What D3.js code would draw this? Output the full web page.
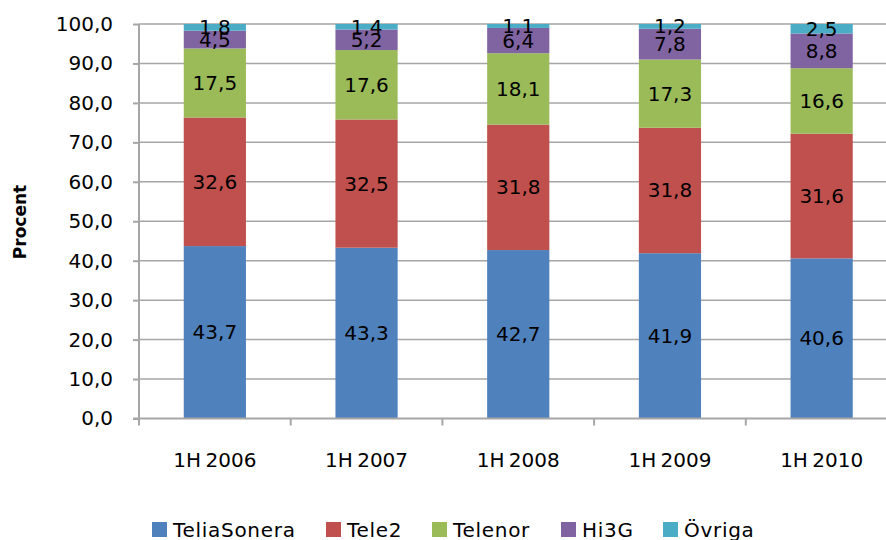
<!DOCTYPE html>
<html>
<head>
<meta charset="utf-8">
<script src="https://cdn.jsdelivr.net/npm/d3@7"></script>
<style>
  body { margin: 0; background: #fff; }
  text { font-family: "DejaVu Sans", sans-serif; fill: #000; }
</style>
</head>
<body>
<div id="chart"></div>
<script>
const categories = ["1H 2006", "1H 2007", "1H 2008", "1H 2009", "1H 2010"];
const seriesNames = ["TeliaSonera", "Tele2", "Telenor", "Hi3G", "Övriga"];
const teliaSonera = [43.7, 43.3, 42.7, 41.9, 40.6];
const tele2 = [32.6, 32.5, 31.8, 31.8, 31.6];
const telenor = [17.5, 17.6, 18.1, 17.3, 16.6];
const hi3g = [4.5, 5.2, 6.4, 7.8, 8.8];
const ovriga = [1.8, 1.4, 1.1, 1.2, 2.5];
const yTicks = [0, 10, 20, 30, 40, 50, 60, 70, 80, 90, 100];

const colors = ["#4F81BD", "#C0504D", "#9BBB59", "#8064A2", "#4BACC6"];
const seriesValues = [teliaSonera, tele2, telenor, hi3g, ovriga];

const rows = categories.map((c, i) => {
  const row = { category: c };
  seriesNames.forEach((s, j) => { row[s] = seriesValues[j][i]; });
  return row;
});

const svg = d3.select("#chart")
  .append("svg")
  .attr("width", 886)
  .attr("height", 540);

const margin = { top: 24, left: 139, bottom: 121.5 };
const plotBottom = 540 - margin.bottom;

const xScale = d3.scaleBand()
  .domain(categories)
  .range([margin.left, 897.5])
  .paddingInner(0.59)
  .paddingOuter(0.295);

const yScale = d3.scaleLinear()
  .domain([0, 100])
  .range([plotBottom, margin.top]);

const fmt = v => d3.format(".1f")(v).replace(".", ",");

// gridlines
svg.append("g")
  .selectAll("line")
  .data(yTicks.filter(t => t > 0))
  .join("line")
  .attr("x1", margin.left)
  .attr("x2", 900)
  .attr("y1", d => yScale(d))
  .attr("y2", d => yScale(d))
  .attr("stroke", "#a6a6a6")
  .attr("stroke-width", 1.5);

// stacked bars
const stacked = d3.stack().keys(seriesNames)(rows);

const layers = svg.append("g")
  .selectAll("g")
  .data(stacked)
  .join("g")
  .attr("fill", (d, i) => colors[i]);

layers.selectAll("rect")
  .data(d => d)
  .join("rect")
  .attr("x", d => xScale(d.data.category))
  .attr("width", xScale.bandwidth())
  .attr("y", d => yScale(Math.min(100, d[1])))
  .attr("height", d => yScale(d[0]) - yScale(Math.min(100, d[1])));

// data labels
layers.selectAll("text")
  .data(d => d.map(p => ({ p, key: d.key })))
  .join("text")
  .attr("x", d => xScale(d.p.data.category) + xScale.bandwidth() / 2)
  .attr("y", d => yScale((d.p[0] + d.p[1]) / 2))
  .attr("text-anchor", "middle")
  .attr("dominant-baseline", "central")
  .attr("font-size", 20)
  .text(d => fmt(d.p.data[d.key]));

// y axis
const yAxis = svg.append("g")
  .attr("transform", `translate(${margin.left},0)`)
  .call(d3.axisLeft(yScale).tickValues(yTicks).tickFormat(fmt).tickSize(6).tickPadding(20));
yAxis.select(".domain").attr("stroke", "#a6a6a6").attr("stroke-width", 2)
  .attr("d", `M0,${plotBottom}V${margin.top}`);
yAxis.selectAll(".tick line").attr("stroke", "#a6a6a6").attr("stroke-width", 2);
yAxis.selectAll(".tick text").attr("font-size", 20).attr("font-family", "DejaVu Sans").attr("fill", "#000");

// x axis
const xAxis = svg.append("g")
  .attr("transform", `translate(0,${plotBottom})`)
  .call(d3.axisBottom(xScale).tickSize(0).tickPadding(34));
xAxis.select(".domain").attr("stroke", "#a6a6a6").attr("stroke-width", 2)
  .attr("d", `M${margin.left - 6},0H900`);
xAxis.selectAll(".tick text").attr("font-size", 20).attr("font-family", "DejaVu Sans").attr("fill", "#000")
  .attr("word-spacing", -2);

// category boundary ticks
svg.append("g")
  .selectAll("line")
  .data(categories)
  .join("line")
  .attr("x1", d => xScale(d) - xScale.step() * xScale.paddingOuter())
  .attr("x2", d => xScale(d) - xScale.step() * xScale.paddingOuter())
  .attr("y1", plotBottom)
  .attr("y2", plotBottom + 7)
  .attr("stroke", "#a6a6a6")
  .attr("stroke-width", 2);

// y axis title
svg.append("text")
  .attr("transform", `translate(26,222) rotate(-90)`)
  .attr("text-anchor", "middle")
  .attr("font-size", 17)
  .attr("font-weight", "bold")
  .text("Procent");

// legend
const legendX = [152, 326, 432, 561, 663];
const legend = svg.append("g");
seriesNames.forEach((name, i) => {
  legend.append("rect")
    .attr("x", legendX[i])
    .attr("y", 522)
    .attr("width", 15)
    .attr("height", 15)
    .attr("fill", colors[i]);
  legend.append("text")
    .attr("x", legendX[i] + 21)
    .attr("y", 537)
    .attr("font-size", 20)
    .attr("letter-spacing", 0.7)
    .text(name);
});
</script>
</body>
</html>
